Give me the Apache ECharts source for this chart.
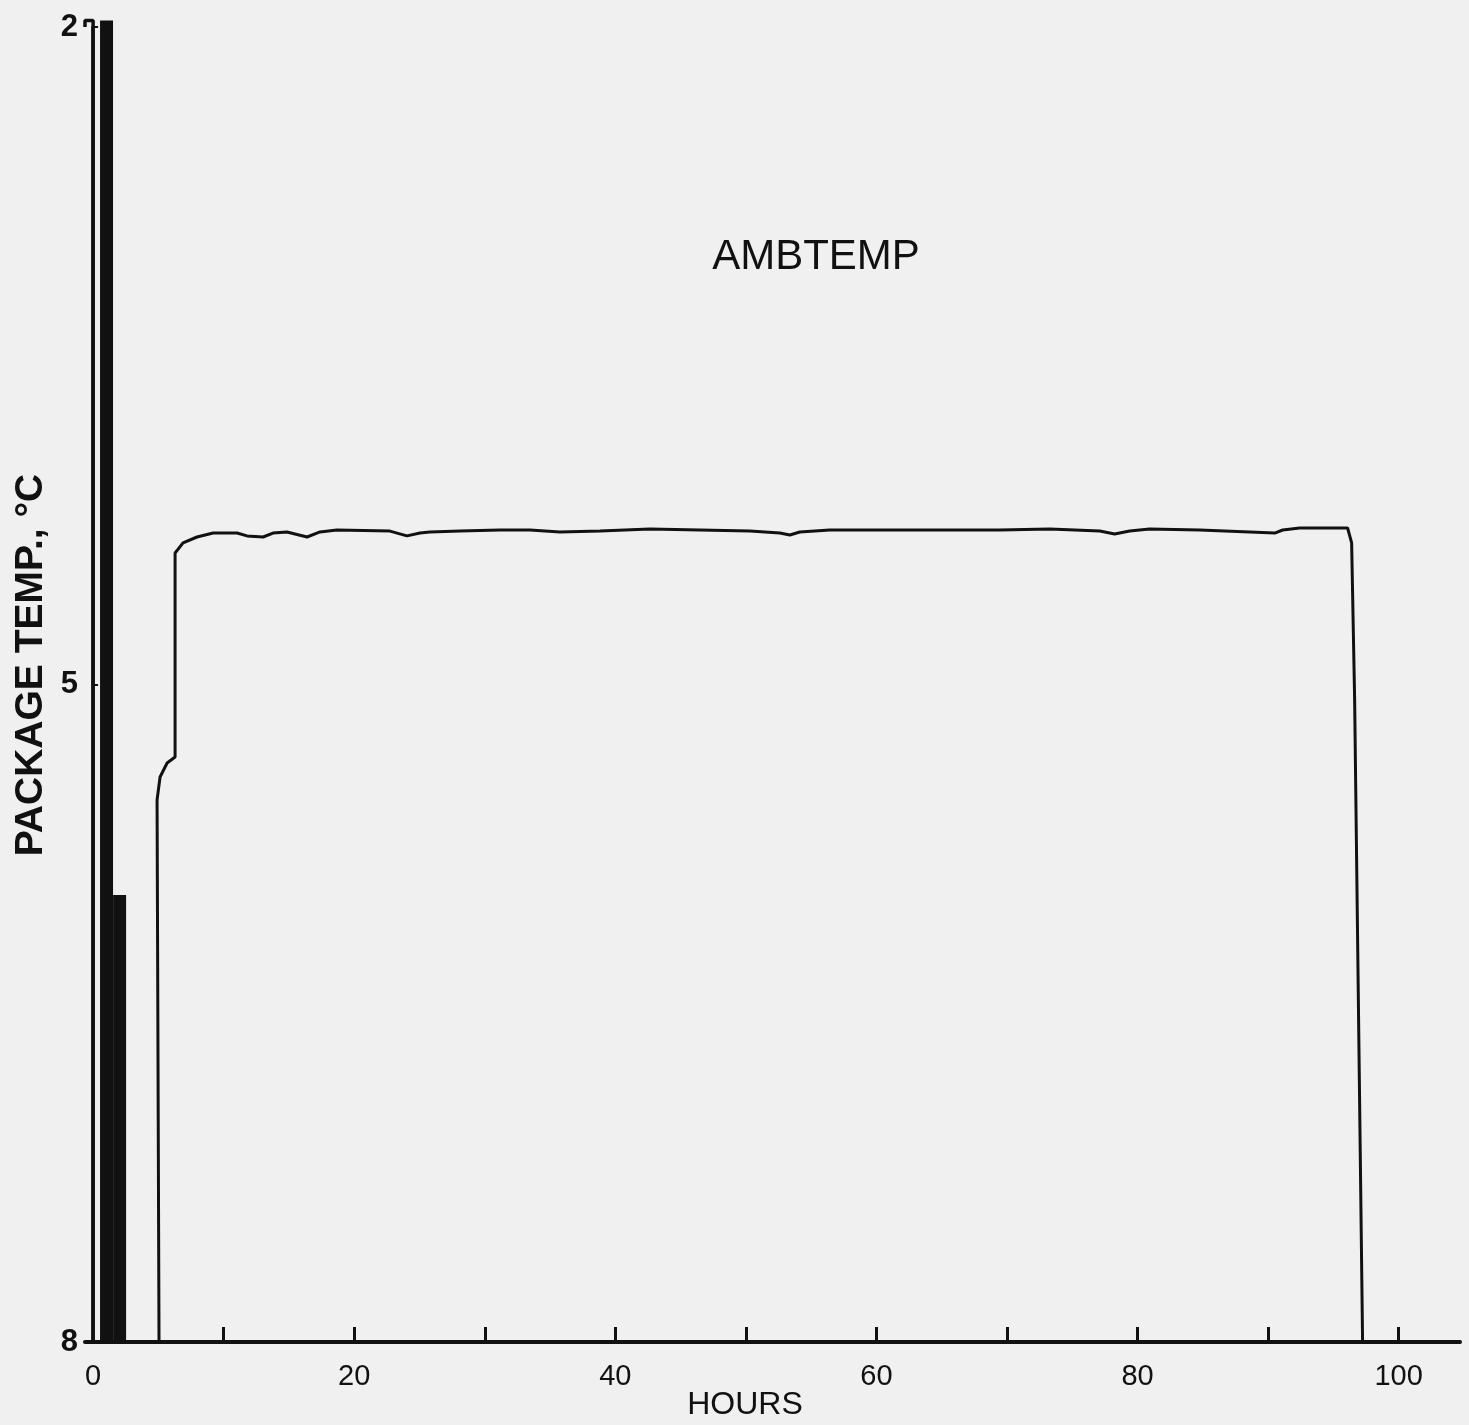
<!DOCTYPE html>
<html>
<head>
<meta charset="utf-8">
<script src="https://cdn.jsdelivr.net/npm/echarts@6/dist/echarts.min.js"></script>
<style>
html,body{margin:0;padding:0;background:#f0f0f0;}
#chart{width:1469px;height:1425px;}
</style>
</head>
<body>
<div id="chart"></div>
<script>
// ---- data (hours, package temp. as labelled on the axis) ----
const title = 'AMBTEMP';
const xTickValues = [10, 20, 30, 40, 50, 60, 70, 80, 90, 100];
const xLabelValues = [0, 20, 40, 60, 80, 100];
const yTickValues = [2, 5, 8];

const ambHours = [5.05, 4.90, 5.13, 5.67, 6.28, 6.28, 6.89, 7.96, 9.19, 11.03, 11.79, 13.02, 13.78, 14.85, 16.39, 17.38, 18.68, 22.74, 24.04, 25.04, 25.80, 28.10, 31.16, 33.46, 35.76, 38.82, 42.65, 46.48, 50.31, 52.60, 53.37, 54.13, 56.43, 61.79, 65.62, 69.45, 73.28, 77.11, 78.25, 79.40, 80.93, 84.76, 88.59, 90.51, 91.12, 92.42, 96.09, 96.40, 96.63, 97.24];
const ambTemp = [8.00, 5.527, 5.422, 5.358, 5.331, 4.400, 4.354, 4.327, 4.309, 4.309, 4.322, 4.327, 4.309, 4.304, 4.327, 4.304, 4.295, 4.300, 4.322, 4.309, 4.304, 4.300, 4.295, 4.295, 4.304, 4.300, 4.290, 4.295, 4.300, 4.309, 4.318, 4.304, 4.295, 4.295, 4.295, 4.295, 4.290, 4.300, 4.313, 4.300, 4.290, 4.295, 4.304, 4.309, 4.295, 4.286, 4.286, 4.354, 5.071, 8.00];

// traces piled up at the start of the record
const traceAHours = [-0.62, -0.62, 0, 0];
const traceATemp = [2.0, 1.97, 1.97, 8.0];
const traceBHours = [1.03, 1.03];
const traceBTemp = [1.97, 8.0];
const traceCHours = [2.03, 2.03];
const traceCTemp = [5.96, 8.0];

const zip = (a, b) => a.map((v, i) => [v, b[i]]);

const chart = echarts.init(document.getElementById('chart'));
const FONT = 'Liberation Sans';
chart.setOption({
  backgroundColor: '#f0f0f0',
  animation: false,
  title: {
    text: title,
    left: 811, top: 231, textAlign: 'center',
    textStyle: {fontFamily: FONT, fontSize: 42, fontWeight: 'normal', color: '#111'}
  },
  grid: {left: 85, right: 9, top: 27, bottom: 83},
  xAxis: {
    type: 'value', min: -0.62, max: 104.7,
    splitLine: {show: false},
    axisLine: {lineStyle: {color: '#111', width: 4}},
    axisTick: {inside: true, length: 15, customValues: xTickValues, lineStyle: {color: '#111', width: 3}},
    axisLabel: {customValues: xLabelValues, margin: 20, fontFamily: FONT, fontSize: 29, color: '#111'}
  },
  yAxis: {
    type: 'value', min: 2, max: 8, interval: 3, inverse: true,
    splitLine: {show: false},
    axisLine: {show: true, lineStyle: {color: '#111', width: 3.5}},
    axisTick: {inside: true, length: 5, customValues: yTickValues, lineStyle: {color: '#111', width: 2}},
    axisLabel: {margin: 7, fontFamily: FONT, fontSize: 31, fontWeight: 'bold', color: '#111'}
  },
  graphic: [
    {type: 'text', x: 31, y: 665, rotation: Math.PI / 2,
     style: {text: 'PACKAGE TEMP., °C', fontFamily: FONT, fontSize: 39, fontWeight: 'bold', fill: '#111', align: 'center', verticalAlign: 'middle'}},
    {type: 'text', x: 745, y: 1405,
     style: {text: 'HOURS', fontFamily: FONT, fontSize: 32, fill: '#111', align: 'center', verticalAlign: 'middle'}}
  ],
  series: [
    {type: 'line', data: zip(traceAHours, traceATemp), symbol: 'none', clip: false,
     lineStyle: {color: '#111', width: 3.5}},
    {type: 'line', data: zip(traceBHours, traceBTemp), symbol: 'none', clip: false,
     lineStyle: {color: '#111', width: 13, cap: 'butt'}},
    {type: 'line', data: zip(traceCHours, traceCTemp), symbol: 'none', clip: false,
     lineStyle: {color: '#111', width: 13, cap: 'butt'}},
    {type: 'line', data: zip(ambHours, ambTemp), symbol: 'none',
     lineStyle: {color: '#111', width: 3}}
  ]
});
</script>
</body>
</html>
